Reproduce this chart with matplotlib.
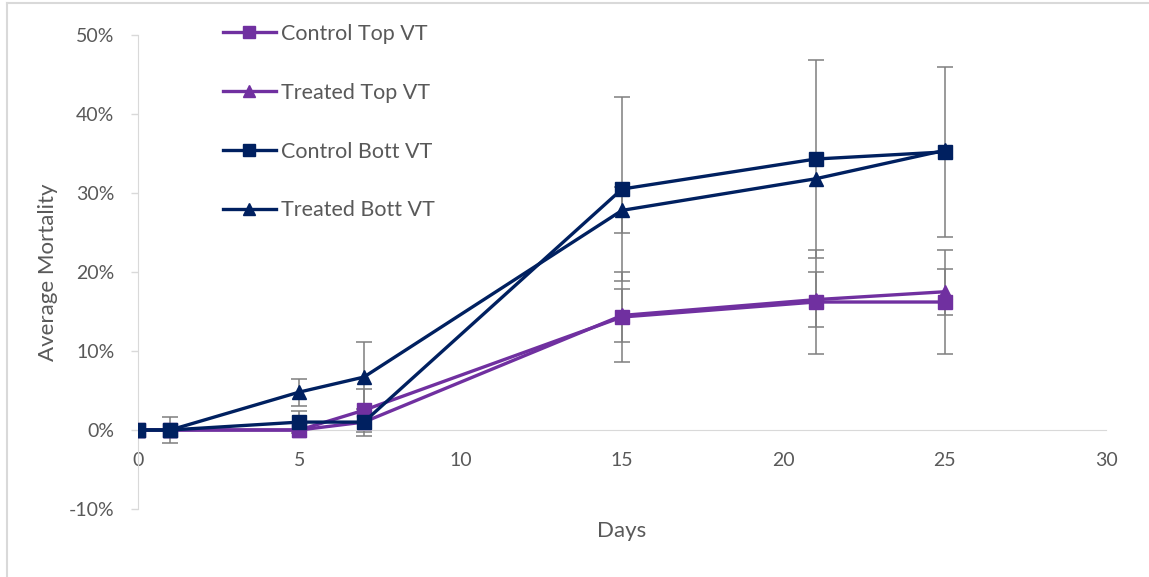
import matplotlib.pyplot as plt
import numpy as np
from matplotlib.lines import Line2D
from matplotlib.ticker import FuncFormatter

plt.rcParams["font.family"] = ["Lato", "DejaVu Sans"]

days = [0, 1, 5, 7, 15, 21, 25]

control_top = [0, 0, 0, 2.5, 14.3, 16.2, 16.2]
treated_top = [0, 0, 0, 1.0, 14.5, 16.5, 17.5]
control_bott = [0, 0, 1.0, 1.0, 30.5, 34.3, 35.2]
treated_bott = [0, 0, 4.8, 6.7, 27.8, 31.8, 35.4]

control_top_err = [0, 0, 0, 2.7, 5.7, 6.6, 6.6]
treated_top_err = [0, 0, 0, 0, 3.3, 3.5, 2.9]
control_bott_err = [0, 1.7, 1.4, 1.7, 11.6, 12.5, 10.8]
treated_bott_err = [0, 0, 1.7, 4.4, 2.9, 0, 0]

labels = ["Control Top VT", "Treated Top VT", "Control Bott VT", "Treated Bott VT"]

purple = "#7030A0"
navy = "#002060"
text_col = "#595959"
axis_col = "#D9D9D9"

series = [
    (control_top, control_top_err, purple, "s"),
    (treated_top, treated_top_err, purple, "^"),
    (control_bott, control_bott_err, navy, "s"),
    (treated_bott, treated_bott_err, navy, "^"),
]

fig = plt.figure(figsize=(11.49, 5.77), dpi=100)
ax = fig.add_axes([138 / 1149, 1 - 509 / 577, 968 / 1149, 474 / 577])

x = np.array(days)
for i, (vals, err, col, mk) in enumerate(series):
    v = np.array(vals)
    e = np.array(err)
    m = e > 0
    ax.errorbar(x[m], v[m], yerr=e[m], fmt="none", ecolor="#7F7F7F",
                elinewidth=1.1, capsize=6, capthick=1.1, zorder=2)
    ax.plot(x, v, color=col, lw=2.4, marker=mk, markersize=10,
            label=labels[i], zorder=3 + i)

ax.set_xlim(0, 30)
ax.set_ylim(-10, 50)
ax.set_xticks(range(0, 31, 5))
ax.set_yticks(range(-10, 51, 10))
ax.yaxis.set_major_formatter(FuncFormatter(lambda v, p: f"{v:.0f}%"))

for s in ["top", "right"]:
    ax.spines[s].set_visible(False)
ax.spines["bottom"].set_position(("data", 0))
ax.spines["bottom"].set_color(axis_col)
ax.spines["left"].set_color(axis_col)
ax.tick_params(axis="x", length=0, pad=16, labelsize=14, labelcolor=text_col)
ax.tick_params(axis="y", length=5, width=1, color=axis_col, pad=12,
               labelsize=14, labelcolor=text_col)

ax.set_xlabel("Days", fontsize=16, color=text_col)
ax.xaxis.set_label_coords(0.5, -0.046)
ax.xaxis.label.set_va("center")
ax.set_ylabel("Average Mortality", fontsize=16, color=text_col)
ax.yaxis.set_label_coords(-0.093, 0.5)
ax.yaxis.label.set_va("center")

handles = [Line2D([], [], color=c, lw=2.4, marker=mk, markersize=8)
           for _, _, c, mk in series]
leg = ax.legend(handles, labels, loc="upper left",
                bbox_to_anchor=(223 / 1149, 1 - 24 / 577),
                bbox_transform=fig.transFigure, frameon=False,
                fontsize=15.5, labelspacing=1.8, handlelength=2.45,
                handletextpad=0.25, borderaxespad=0, borderpad=0)
for t in leg.get_texts():
    t.set_color(text_col)

# thin frame along the top and left edges
fig.add_artist(Line2D([7 / 1149, 1], [1 - 3 / 577, 1 - 3 / 577],
                      transform=fig.transFigure, color=axis_col, lw=1.5))
fig.add_artist(Line2D([7 / 1149, 7 / 1149], [0, 1 - 3 / 577],
                      transform=fig.transFigure, color=axis_col, lw=1.5))

fig.savefig("out.png", dpi=100)
